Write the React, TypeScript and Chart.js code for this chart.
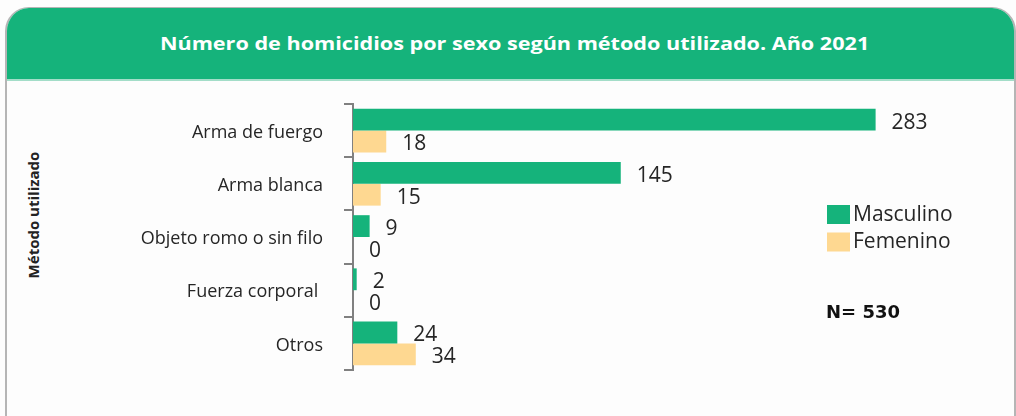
import React, { useEffect, useRef } from "react";
import { Chart, registerables } from "chart.js";

Chart.register(...registerables);

const categories = ["Arma de fuergo", "Arma blanca", "Objeto romo o sin filo", "Fuerza corporal ", "Otros"];
const masculino = [283, 145, 9, 2, 24];
const femenino = [18, 15, 0, 0, 34];
const seriesNames = ["Masculino", "Femenino"];
const seriesColors = ["#15b37b", "#fed891"];
const chartTitle = "Número de homicidios por sexo según método utilizado. Año 2021";
const axisTitle = "Método utilizado";

const FONT = "'Open Sans', sans-serif";

const valueLabels = {
  id: "valueLabels",
  afterDatasetsDraw(chart: any) {
    const ctx = chart.ctx;
    ctx.save();
    ctx.font = `21px ${FONT}`;
    ctx.fillStyle = "#262626";
    ctx.textAlign = "left";
    ctx.textBaseline = "middle";
    chart.data.datasets.forEach((ds: any, i: number) => {
      const meta = chart.getDatasetMeta(i);
      meta.data.forEach((bar: any, j: number) => {
        ctx.fillText(String(ds.data[j]), bar.x + 16, bar.y + 3);
      });
    });
    ctx.restore();
  },
};

const customLegend = {
  id: "customLegend",
  afterDraw(chart: any) {
    const ctx = chart.ctx;
    ctx.save();
    ctx.font = `21px ${FONT}`;
    ctx.textAlign = "left";
    ctx.textBaseline = "middle";
    chart.data.datasets.forEach((ds: any, i: number) => {
      const y = 205 + i * 27.5;
      ctx.fillStyle = ds.backgroundColor;
      ctx.fillRect(827, y, 23, 19);
      ctx.fillStyle = "#262626";
      ctx.fillText(ds.label, 853, y + 10);
    });
    const total = chart.data.datasets.reduce(
      (s: number, ds: any) => s + ds.data.reduce((a: number, b: number) => a + b, 0),
      0
    );
    ctx.font = `bold 18px 'DejaVu Sans', sans-serif`;
    ctx.fillStyle = "#111";
    ctx.fillText("N= " + total, 826, 313);
    ctx.restore();
  },
};

export default function App() {
  const ref = useRef<HTMLCanvasElement>(null);

  useEffect(() => {
    if (!ref.current) return;
    Chart.defaults.font.family = FONT;
    const chart = new Chart(ref.current, {
      type: "bar",
      data: {
        labels: categories,
        datasets: [
          { label: seriesNames[0], data: masculino, backgroundColor: seriesColors[0], categoryPercentage: 0.82, barPercentage: 1 },
          { label: seriesNames[1], data: femenino, backgroundColor: seriesColors[1], categoryPercentage: 0.82, barPercentage: 1 },
        ],
      },
      options: {
        indexAxis: "y",
        responsive: false,
        animation: false,
        devicePixelRatio: 1,
        layout: { padding: { top: 104, bottom: 46, left: 0, right: 109 } },
        plugins: { legend: { display: false }, tooltip: { enabled: false }, title: { display: false } },
        scales: {
          x: { display: false, min: 0, max: 300 },
          y: {
            afterFit(scale: any) {
              scale.width = 353;
            },
            grid: { display: true, drawOnChartArea: false, drawTicks: true, tickLength: 9, color: "#808080", lineWidth: 2 },
            border: { display: true, color: "#808080", width: 2 },
            ticks: { padding: 21, labelOffset: 2, color: "#262626", font: { size: 18, family: FONT } },
          },
        },
      },
      plugins: [valueLabels, customLegend],
    });
    return () => chart.destroy();
  }, []);

  return (
    <div style={{ position: "fixed", left: 0, top: 0, width: 1016, height: 416, background: "#fdfdfd", overflow: "hidden" }}>
      <div
        style={{
          position: "absolute",
          left: 5,
          top: 7,
          width: 1007,
          height: 430,
          borderLeft: "2px solid #b5b5b5",
          borderRight: "2px solid #b5b5b5",
          borderTop: "1px solid #b5b5b5",
          borderTopLeftRadius: 24,
          borderTopRightRadius: 24,
          background: "#fdfdfd",
          overflow: "hidden",
        }}
      >
        <div
          style={{
            height: 71,
            background: "#15b37b",
            borderBottom: "2px solid #a3ddc8",
            display: "flex",
            alignItems: "center",
            justifyContent: "center",
            color: "#fff",
            fontFamily: FONT,
            fontWeight: 700,
            fontSize: 18,
          }}
        >
          <span style={{ display: "inline-block", transform: "translate(4px, -1px) scaleX(1.2)", whiteSpace: "nowrap" }}>
            {chartTitle}
          </span>
        </div>
      </div>
      <div
        style={{
          position: "absolute",
          left: 33,
          top: 215,
          transform: "translate(-50%, -50%) rotate(-90deg)",
          whiteSpace: "nowrap",
          fontFamily: FONT,
          fontWeight: 700,
          fontSize: 15,
          color: "#222",
        }}
      >
        {axisTitle}
      </div>
      <canvas ref={ref} width={1016} height={416} style={{ position: "absolute", left: 0, top: 0 }} />
    </div>
  );
}
